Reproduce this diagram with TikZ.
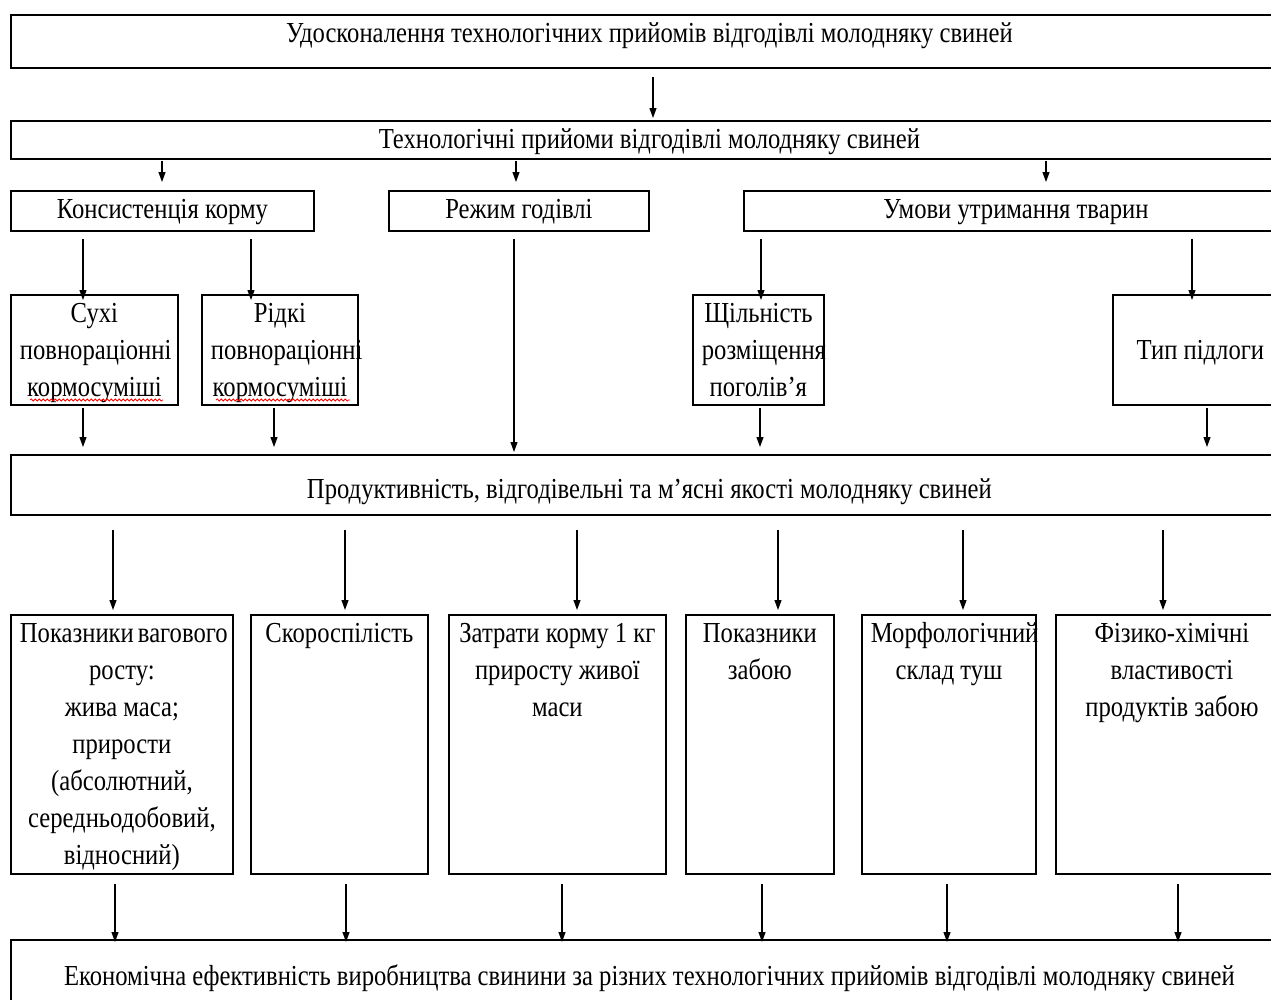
\documentclass[tikz,border=0pt]{standalone}
\usepackage{fontspec}
\setmainfont{Liberation Serif}[FakeStretch=0.85]
\usetikzlibrary{arrows.meta,decorations.pathmorphing}
\hyphenpenalty=10000 \exhyphenpenalty=10000
\newcommand\bx[4]{\parbox[c][#2pt][t]{\dimexpr#1pt-18pt\relax}{\centering\rule{0pt}{#3pt}#4\par}}
\newcommand\vc[4][]{\coordinate (vx) at (#4,0); \draw[arr,#1] (#2.south -| vx) -- (#3.north -| vx);}
\tikzset{
  box/.style={draw, line width=1.8pt, inner xsep=9pt, inner ysep=0pt, anchor=north west,
    font=\fontsize{29}{37}\selectfont},
  arr/.style={line width=1.1pt, -{Triangle[length=10pt,width=7pt]}},
  spell/.style={red, line width=0.8pt, decorate, decoration={snake, amplitude=1pt, segment length=4pt}}
}
\begin{document}
\begin{tikzpicture}[x=1pt,y=-1pt]
\useasboundingbox (0,0) rectangle (1271,999);
\fill[white] (0,0) rectangle (1271,999);
\clip (0,0) rectangle (1271,999);
% boxes
\node[box] (b1) at (10,14) {\bx{1277}{53}{28}{Удосконалення технологічних прийомів відгодівлі молодняку свиней}};
\node[box] (b2) at (10,120) {\bx{1277}{38}{28}{Технологічні прийоми відгодівлі молодняку свиней}};
\node[box] (b3a) at (10,190) {\bx{303}{40}{28}{Консистенція корму}};
\node[box] (b3b) at (388,190) {\bx{260}{40}{28}{Режим годівлі}};
\node[box] (b3c) at (743,190) {\bx{544}{40}{28}{Умови утримання тварин}};
\node[box] (b4a) at (10,294) {\bx{167}{110}{28}{Сухі\\повнораціонні\\кормосуміші}};
\node[box] (b4b) at (201,294) {\bx{156}{110}{28}{Рідкі\\повнораціонні\\кормосуміші}};
\node[box] (b4c) at (692,294) {\bx{131}{110}{28}{Щільність\\розміщення\\поголів’я}};
\node[box] (b4d) at (1112,294) {\bx{175}{110}{65}{Тип~підлоги}};
\node[box] (b5) at (10,454) {\bx{1277}{60}{44}{Продуктивність, відгодівельні та м’ясні якості молодняку свиней}};
\node[box] (b6a) at (10,614) {\bx{222}{259}{28}{Показники~вагового\\росту:\\жива~маса;\\прирости\\(абсолютний,\\середньодобовий,\\відносний)}};
\node[box] (b6b) at (250,614) {\bx{177}{259}{28}{Скороспілість}};
\node[box] (b6c) at (448,614) {\bx{217}{259}{28}{Затрати~корму~1~кг\\приросту~живої\\маси}};
\node[box] (b6d) at (685,614) {\bx{148}{259}{28}{Показники\\забою}};
\node[box] (b6e) at (861,614) {\bx{174}{259}{28}{Морфологічний\\склад~туш}};
\node[box] (b6f) at (1055,614) {\bx{232}{259}{28}{Фізико-хімічні\\властивості\\продуктів~забою}};
\node[box] (b7) at (10,939) {\bx{1277}{68}{46}{Економічна ефективність виробництва свинини за різних технологічних прийомів відгодівлі молодняку свиней}};
% spell-check underlines
\draw[spell] (30,400) -- (163,400);
\draw[spell] (216,400) -- (350,400);
% connectors
\vc[shorten <=8pt, shorten >=2pt]{b1}{b2}{653}
\vc[shorten <=1pt, shorten >=8pt]{b2}{b3a}{162}
\vc[shorten <=1pt, shorten >=8pt]{b2}{b3b}{516}
\vc[shorten <=1pt, shorten >=8pt]{b2}{b3c}{1046}
\vc[shorten <=7pt, shorten >=-6pt]{b3a}{b4a}{83}
\vc[shorten <=7pt, shorten >=-6pt]{b3a}{b4b}{251}
\vc[shorten <=7pt, shorten >=2pt]{b3b}{b5}{514}
\vc[shorten <=7pt, shorten >=-6pt]{b3c}{b4c}{761}
\vc[shorten <=7pt, shorten >=-6pt]{b3c}{b4d}{1192}
\vc[shorten <=2pt, shorten >=7pt]{b4a}{b5}{83}
\vc[shorten <=2pt, shorten >=7pt]{b4b}{b5}{274}
\vc[shorten <=2pt, shorten >=7pt]{b4c}{b5}{760}
\vc[shorten <=2pt, shorten >=7pt]{b4d}{b5}{1207}
\vc[shorten <=14pt, shorten >=4pt]{b5}{b6a}{113}
\vc[shorten <=14pt, shorten >=4pt]{b5}{b6b}{345}
\vc[shorten <=14pt, shorten >=4pt]{b5}{b6c}{577}
\vc[shorten <=14pt, shorten >=4pt]{b5}{b6d}{778}
\vc[shorten <=14pt, shorten >=4pt]{b5}{b6e}{963}
\vc[shorten <=14pt, shorten >=4pt]{b5}{b6f}{1163}
\vc[shorten <=9pt, shorten >=-3pt]{b6a}{b7}{115}
\vc[shorten <=9pt, shorten >=-3pt]{b6b}{b7}{346}
\vc[shorten <=9pt, shorten >=-3pt]{b6c}{b7}{562}
\vc[shorten <=9pt, shorten >=-3pt]{b6d}{b7}{762}
\vc[shorten <=9pt, shorten >=-3pt]{b6e}{b7}{947}
\vc[shorten <=9pt, shorten >=-3pt]{b6f}{b7}{1178}
\end{tikzpicture}
\end{document}
